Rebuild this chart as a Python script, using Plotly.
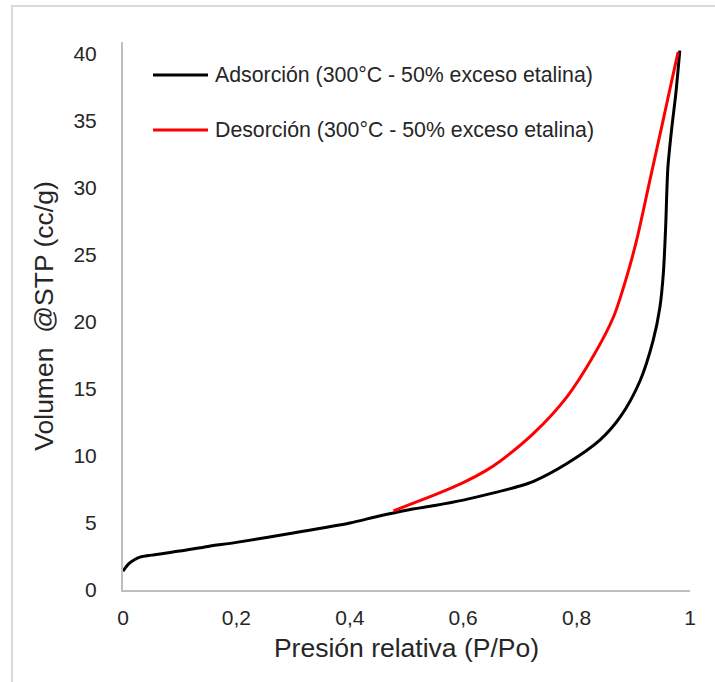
import plotly.graph_objects as go

# Data
ads_x = [0.0, 0.005, 0.01, 0.02, 0.03, 0.05, 0.1, 0.15, 0.2, 0.3, 0.4, 0.45, 0.5,
         0.55, 0.6, 0.65, 0.7, 0.724, 0.783, 0.841, 0.877, 0.912, 0.935, 0.947,
         0.953, 0.957, 0.961, 0.968, 0.975, 0.982]
ads_y = [1.4, 1.7, 1.95, 2.25, 2.45, 2.6, 2.9, 3.25, 3.55, 4.25, 5.0, 5.5, 5.95,
         6.3, 6.7, 7.2, 7.75, 8.1, 9.43, 11.17, 12.9, 15.6, 18.6, 21.1,
         23.6, 27.0, 31.5, 34.5, 37.0, 40.2]

des_x = [0.477, 0.52, 0.57, 0.6, 0.64, 0.665, 0.724, 0.783, 0.829, 0.865, 0.888,
         0.906, 0.929, 0.952, 0.968, 0.979]
des_y = [5.9, 6.6, 7.45, 8.0, 8.9, 9.6, 11.67, 14.4, 17.4, 20.35, 23.3,
         26.1, 30.5, 34.9, 38.0, 40.1]

series_names = ["Adsorción (300°C - 50% exceso etalina)",
                "Desorción (300°C - 50% exceso etalina)"]
series_colors = ["#000000", "#ff0000"]

x_tickvals = [0, 0.2, 0.4, 0.6, 0.8, 1]
x_ticktext = ["0", "0,2", "0,4", "0,6", "0,8", "1"]
y_tickvals = [0, 5, 10, 15, 20, 25, 30, 35, 40]

FONT = "Liberation Sans, Arial, sans-serif"
TXT = "#262626"

fig = go.Figure()
fig.add_trace(go.Scatter(x=ads_x, y=ads_y, mode="lines", name=series_names[0],
                         line=dict(color=series_colors[0], width=3, shape="spline", smoothing=0.8),
                         showlegend=False))
fig.add_trace(go.Scatter(x=des_x, y=des_y, mode="lines", name=series_names[1],
                         line=dict(color=series_colors[1], width=3, shape="spline", smoothing=0.8),
                         showlegend=False))

# Manual legend (line sample + text)
leg_y = [0.9398, 0.8394]
for i in range(2):
    fig.add_shape(type="line", xref="paper", yref="paper",
                  x0=0.0529, x1=0.1499, y0=leg_y[i], y1=leg_y[i],
                  line=dict(color=series_colors[i], width=3))
    fig.add_annotation(xref="paper", yref="paper", x=0.1587, y=leg_y[i],
                       xanchor="left", yanchor="middle", showarrow=False,
                       text=series_names[i], font=dict(family=FONT, size=21.3, color=TXT))

# Outer chart border (partially visible)
fig.add_shape(type="rect", xref="paper", yref="paper",
              x0=-0.1958, x1=1.2, y0=-0.4, y1=1.0657,
              line=dict(color="#d9d9d9", width=2), layer="below")

fig.update_layout(
    width=715, height=682,
    margin=dict(l=123, r=25, t=42, b=92),
    paper_bgcolor="white", plot_bgcolor="white",
    font=dict(family=FONT, color=TXT),
    xaxis=dict(range=[0, 1], tickvals=x_tickvals, ticktext=x_ticktext,
               showgrid=False, zeroline=False, showline=True,
               linecolor="#bfbfbf", linewidth=2, ticks="",
               tickfont=dict(size=21, color=TXT), ticklabelstandoff=8,
               title=dict(text="Presión relativa (P/Po)", font=dict(size=26.5, color=TXT), standoff=10)),
    yaxis=dict(range=[0, 40.85], tickvals=y_tickvals,
               showgrid=False, zeroline=False, showline=True,
               linecolor="#bfbfbf", linewidth=2, ticks="",
               tickfont=dict(size=21, color=TXT), ticklabelstandoff=20,
               title=dict(text="Volumen\u00a0\u00a0@STP (cc/g)", font=dict(size=26.5, color=TXT), standoff=12)),
)

fig.write_html("out.html", config={"displayModeBar": False},
               post_script="document.body.style.margin='0';")
